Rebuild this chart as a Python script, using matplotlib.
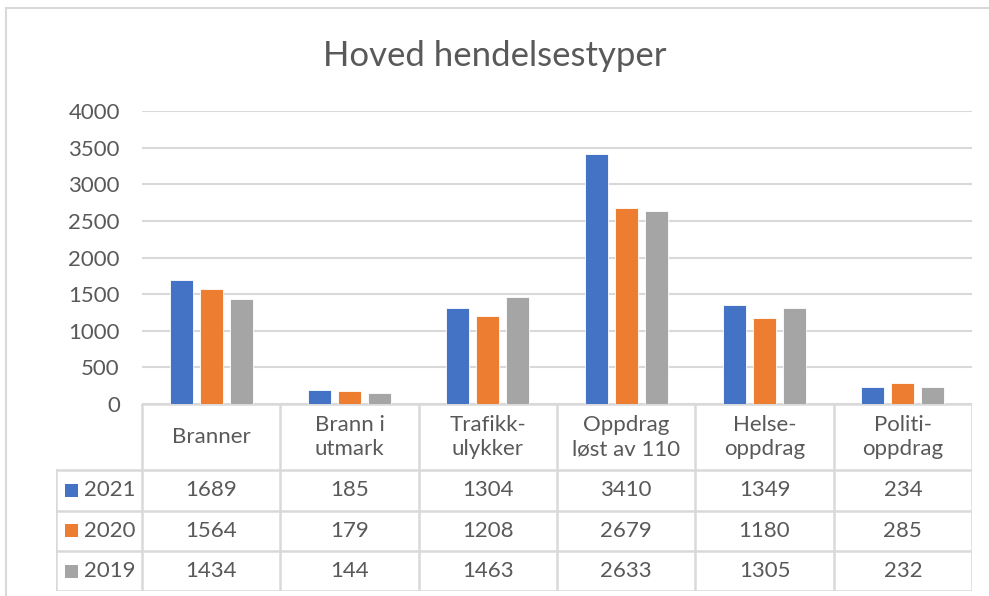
import numpy as np
import matplotlib.pyplot as plt
from matplotlib.patches import Rectangle

plt.rcParams['font.family'] = ['Lato', 'DejaVu Sans']

# Data
categories = ["Branner", "Brann i\nutmark", "Trafikk-\nulykker",
              "Oppdrag\nløst av 110", "Helse-\noppdrag", "Politi-\noppdrag"]
years = ["2021", "2020", "2019"]
v2021 = [1689, 185, 1304, 3410, 1349, 234]
v2020 = [1564, 179, 1208, 2679, 1180, 285]
v2019 = [1434, 144, 1463, 2633, 1305, 232]
colors = ["#4472C4", "#ED7D31", "#A5A5A5"]
yticks = [0, 500, 1000, 1500, 2000, 2500, 3000, 3500, 4000]

series = [v2021, v2020, v2019]
txt = "#595959"
grid = "#D9D9D9"
W, H = 989, 596
fs = 16

fig = plt.figure(figsize=(W / 100, H / 100), dpi=100)

# frame of the chart (only top and left edges visible)
fig.add_artist(plt.Line2D([6 / W, 6 / W], [0, 1 - 8 / H], color=grid, lw=1.5))
fig.add_artist(plt.Line2D([6 / W, 1], [1 - 8 / H, 1 - 8 / H], color=grid, lw=1.5))

# main bar axes
ax = fig.add_axes([142 / W, 1 - 404 / H, (972 - 142) / W, (404 - 111) / H])
x = np.arange(len(categories))
bw = 0.166
step = 0.217
for k, vals in enumerate(series):
    ax.bar(x + (k - 1) * step, vals, width=bw, color=colors[k],
           edgecolor="white", linewidth=0.6, zorder=3)
ax.set_xlim(-0.5, len(categories) - 0.5)
ax.set_ylim(0, 4000)
ax.set_yticks(yticks)
ax.set_yticklabels([str(t) for t in yticks], fontsize=fs, color=txt)
ax.tick_params(axis="y", length=0, pad=16)
ax.set_xticks([])
ax.grid(axis="y", color=grid, lw=1.5, zorder=0)
for s in ax.spines.values():
    s.set_visible(False)

fig.text(0.5, 1 - 56 / H, "Hoved hendelsestyper", ha="center", va="center",
         fontsize=25, color=txt)

# data table below the plot
cw = (972 - 142) / len(categories)
left_ext = (142 - 56) / cw
tax = fig.add_axes([56 / W, 1 - 591 / H, (972 - 56) / W, (591 - 404) / H])
tax.set_xlim(-0.5 - left_ext, len(categories) - 0.5)
row_edges = [0, 66, 106.5, 147, 187]
tax.set_ylim(187, 0)
tax.axis("off")

lc = dict(color=grid, lw=1.8, solid_capstyle="projecting")
# horizontal lines
tax.plot([-0.5, len(categories) - 0.5], [row_edges[0]] * 2, **lc)
for r in row_edges[1:]:
    tax.plot([-0.5 - left_ext, len(categories) - 0.5], [r, r], **lc)
# vertical lines
for c in range(len(categories) + 1):
    tax.plot([c - 0.5, c - 0.5], [row_edges[0], row_edges[-1]], **lc)
tax.plot([-0.5 - left_ext] * 2, [row_edges[1], row_edges[-1]], **lc)

for i, cat in enumerate(categories):
    tax.text(i, (row_edges[0] + row_edges[1]) / 2, cat, ha="center", va="center",
             fontsize=fs, color=txt, linespacing=1.25)
for k, vals in enumerate(series):
    yc = (row_edges[k + 1] + row_edges[k + 2]) / 2
    for i, v in enumerate(vals):
        tax.text(i, yc, str(v), ha="center", va="center", fontsize=fs, color=txt)
    # legend key + year label
    kx = -0.5 - left_ext + 9 / cw
    tax.add_patch(Rectangle((kx, yc - 6.5), 13 / cw, 13, color=colors[k], lw=0))
    tax.text(kx + 19 / cw, yc, years[k], ha="left", va="center",
             fontsize=fs, color=txt)

fig.savefig("out.png", dpi=100, facecolor="white")
